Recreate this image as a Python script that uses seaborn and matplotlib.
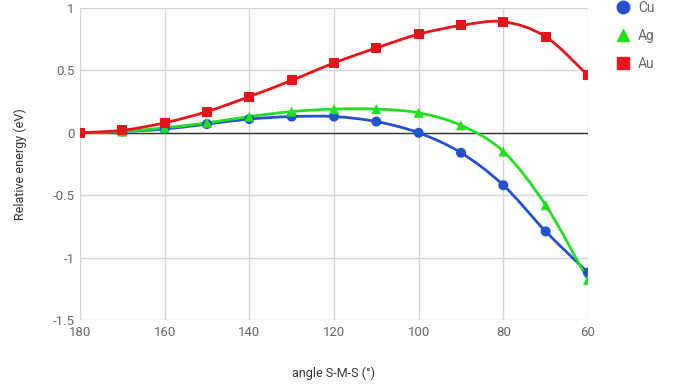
import numpy as np
import pandas as pd
import matplotlib; matplotlib.use('Agg')
import matplotlib.pyplot as plt
from matplotlib.path import Path
from matplotlib.patches import PathPatch
from matplotlib.lines import Line2D
import seaborn as sns

ANGLES = [180, 170, 160, 150, 140, 130, 120, 110, 100, 90, 80, 70, 60]
CU = [0.0, 0.01, 0.03, 0.07, 0.11, 0.13, 0.13, 0.09, 0.0, -0.16, -0.42, -0.79, -1.12]
AG = [0.0, 0.01, 0.04, 0.08, 0.13, 0.17, 0.19, 0.19, 0.16, 0.06, -0.15, -0.58, -1.18]
AU = [0.0, 0.02, 0.08, 0.17, 0.29, 0.42, 0.56, 0.68, 0.79, 0.86, 0.89, 0.77, 0.46]
METALS = ['Cu', 'Ag', 'Au']
COLORS = {'Cu': '#2352cc', 'Ag': '#22e01f', 'Au': '#e8141a'}
MARKERS = {'Cu': 'o', 'Ag': '^', 'Au': 's'}
X_TICKS = [180, 160, 140, 120, 100, 80, 60]
Y_TICKS = [-1.5, -1, -0.5, 0, 0.5, 1]
Y_TICK_LABELS = ['-1.5', '-1', '-0.5', '0', '0.5', '1']

sns.set_theme(style='whitegrid')
plt.rcParams['font.family'] = ['Roboto', 'DejaVu Sans']

df = pd.DataFrame({'angle': ANGLES * 3,
                   'energy': CU + AG + AU,
                   'metal': ['Cu'] * 13 + ['Ag'] * 13 + ['Au'] * 13})

fig = plt.figure(figsize=(6.76, 3.88), dpi=100)
ax = fig.add_axes([80/676, 1 - 320/388, 508/676, 312/388])


def smooth_path(x, y, t=1/6):
    # cubic bezier through the data points (rendering only, like curveType 'function')
    x, y = np.asarray(x, float), np.asarray(y, float)
    verts, codes = [(x[0], y[0])], [Path.MOVETO]
    n = len(x)
    for i in range(n - 1):
        x0, y0 = (x[i-1], y[i-1]) if i > 0 else (x[i], y[i])
        x3, y3 = (x[i+2], y[i+2]) if i + 2 < n else (x[i+1], y[i+1])
        c1 = (x[i] + (x[i+1] - x0) * t, y[i] + (y[i+1] - y0) * t)
        c2 = (x[i+1] - (x3 - x[i]) * t, y[i+1] - (y3 - y[i]) * t)
        verts += [c1, c2, (x[i+1], y[i+1])]
        codes += [Path.CURVE4] * 3
    return Path(verts, codes)


for m in METALS:
    sub = df[df.metal == m]
    ax.add_patch(PathPatch(smooth_path(sub.angle, sub.energy), fill=False,
                           edgecolor=COLORS[m], lw=2, zorder=3))

sns.scatterplot(data=df, x='angle', y='energy', hue='metal', style='metal',
                palette=COLORS, markers=MARKERS, hue_order=METALS,
                s=52, edgecolor='none', legend=False, ax=ax, zorder=4)

ax.axhline(0, color='#333333', lw=1, zorder=2)
ax.set_xlim(180, 60)
ax.set_ylim(-1.5, 1)
ax.set_xticks(X_TICKS)
ax.set_yticks(Y_TICKS)
ax.set_yticklabels(Y_TICK_LABELS)
ax.grid(True, color='#d4d4d4', lw=1)
for s in ax.spines.values():
    s.set_visible(False)
ax.tick_params(axis='both', colors='#666666', labelsize=9.5, length=0, pad=4)
ax.set_xlabel('angle S-M-S (°)', fontsize=9, color='#333333', labelpad=20)
ax.set_ylabel('Relative energy (eV)', fontsize=9, color='#333333', labelpad=18)

handles = [Line2D([], [], ls='none', marker=MARKERS[m], color=COLORS[m], markersize=9)
           for m in METALS]
fig.legend(handles, METALS, loc='upper left', bbox_to_anchor=(602/676, 1.03),
           frameon=False, fontsize=10, labelcolor='#666666', labelspacing=1.0,
           handletextpad=0.5, handlelength=1.2)

plt.savefig('out.png', dpi=100)
